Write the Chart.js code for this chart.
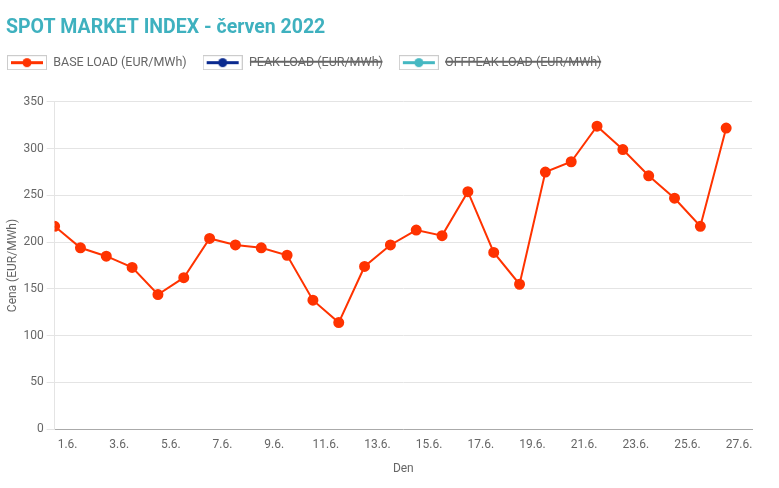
<!DOCTYPE html>
<html lang="cs">
<head>
  <meta charset="UTF-8" />
  <title>Spot market index - červen 2022</title>
  <script src="https://cdn.jsdelivr.net/npm/chart.js"></script>
  <style>
    html, body { margin: 0; padding: 0; background: #fff; }
    .chart-box { width: 779px; height: 488px; }
  </style>
</head>
<body>
  <div class="chart-box">
    <canvas id="graf"></canvas>
  </div>

  <script>
    // data - dny v měsíci a ceny base load
    const dny = [1, 2, 3, 4, 5, 6, 7, 8, 9, 10, 11, 12, 13, 14, 15, 16, 17, 18, 19, 20, 21, 22, 23, 24, 25, 26, 27];
    const baseLoad = [217, 194, 185, 173, 144, 162, 204, 197, 194, 186, 138, 114, 174, 197, 213, 207, 254, 189, 155, 275, 286, 324, 299, 271, 247, 217, 322];
    const peakLoad = [];
    const offpeakLoad = [];
    const popiskyDnu = ['1.6.', '3.6.', '5.6.', '7.6.', '9.6.', '11.6.', '13.6.', '15.6.', '17.6.', '19.6.', '21.6.', '23.6.', '25.6.', '27.6.'];
    const popiskyCeny = [0, 50, 100, 150, 200, 250, 300, 350];

    const barvy = ['#ff3300', '#0a2a8f', '#45b8c2'];
    const sedaText = '#666';

    // ikonka do legendy: rámeček s čárou a tečkou
    function ikonka(barva) {
      const c = document.createElement('canvas');
      c.width = 40;
      c.height = 15;
      const g = c.getContext('2d');
      g.fillStyle = '#fff';
      g.fillRect(0, 0, 40, 15);
      g.strokeStyle = '#ccc';
      g.lineWidth = 1;
      g.strokeRect(0.5, 0.5, 39, 14);
      g.strokeStyle = barva;
      g.lineWidth = 3;
      g.beginPath();
      g.moveTo(4, 7.5);
      g.lineTo(36, 7.5);
      g.stroke();
      g.fillStyle = barva;
      g.beginPath();
      g.arc(20, 7.5, 4.5, 0, Math.PI * 2);
      g.fill();
      return c;
    }
    const ikonky = barvy.map(ikonka);

    // legenda: víc místa pod ní a posun doleva ke kraji
    const upravaLegendy = {
      id: 'upravaLegendy',
      beforeInit(chart) {
        const legend = chart.legend;
        if (!legend) return;
        const fit = legend.fit;
        legend.fit = function () {
          fit.call(this);
          this.height += 23;
        };
        const draw = legend.draw;
        legend.draw = function () {
          this.ctx.save();
          this.ctx.translate(-15, 0);
          draw.call(this);
          this.ctx.restore();
        };
      }
    };

    const ctx = document.getElementById('graf').getContext('2d');
    new Chart(ctx, {
      type: 'line',
      data: {
        datasets: [
          {
            label: 'BASE LOAD (EUR/MWh)',
            data: dny.map((d, i) => ({ x: d, y: baseLoad[i] })),
            borderColor: barvy[0],
            backgroundColor: barvy[0],
            borderWidth: 2,
            pointRadius: 4.5,
            pointHoverRadius: 5,
            tension: 0
          },
          {
            label: 'PEAK LOAD (EUR/MWh)',
            data: peakLoad,
            borderColor: barvy[1],
            backgroundColor: barvy[1],
            hidden: true
          },
          {
            label: 'OFFPEAK LOAD (EUR/MWh)',
            data: offpeakLoad,
            borderColor: barvy[2],
            backgroundColor: barvy[2],
            hidden: true
          }
        ]
      },
      options: {
        responsive: true,
        maintainAspectRatio: false,
        animation: false,
        layout: { padding: { left: 6, right: 27, bottom: 8 } },
        font: { family: 'Roboto' },
        plugins: {
          title: {
            display: true,
            text: 'SPOT MARKET INDEX - červen 2022',
            align: 'start',
            color: '#3fb1bf',
            font: { family: 'Roboto', size: 19.5, weight: 'bold' },
            padding: { top: 16, bottom: 1 }
          },
          legend: {
            align: 'start',
            labels: {
              usePointStyle: true,
              pointStyleWidth: 40,
              boxHeight: 13,
              padding: 16,
              color: sedaText,
              font: { family: 'Roboto', size: 12.5 },
              generateLabels: chart =>
                Chart.defaults.plugins.legend.labels.generateLabels(chart)
                  .map((item, i) => ({ ...item, pointStyle: ikonky[i] }))
            }
          },
          tooltip: { enabled: true }
        },
        scales: {
          x: {
            type: 'linear',
            min: 1,
            max: 28,
            afterBuildTicks: axis => {
              axis.ticks = popiskyDnu.map((t, i) => ({ value: 1.5 + i * 2 }));
            },
            ticks: {
              maxRotation: 0,
              autoSkip: false,
              padding: 1,
              color: sedaText,
              font: { family: 'Roboto', size: 12 },
              callback: (v, i) => popiskyDnu[i]
            },
            grid: { display: false },
            border: { display: true, color: '#aaa' },
            title: {
              display: true,
              text: 'Den',
              color: sedaText,
              font: { family: 'Roboto', size: 12 },
              padding: { top: 8 }
            }
          },
          y: {
            min: 0,
            max: 350,
            afterBuildTicks: axis => {
              axis.ticks = popiskyCeny.map(v => ({ value: v }));
            },
            ticks: {
              color: sedaText,
              font: { family: 'Roboto', size: 12 }
            },
            grid: { color: '#e4e4e4' },
            border: { color: '#e4e4e4' },
            title: {
              display: true,
              text: 'Cena (EUR/MWh)',
              color: sedaText,
              font: { family: 'Roboto', size: 12 },
              padding: { top: 0, bottom: 0 }
            }
          }
        }
      },
      plugins: [upravaLegendy]
    });
  </script>
</body>
</html>
